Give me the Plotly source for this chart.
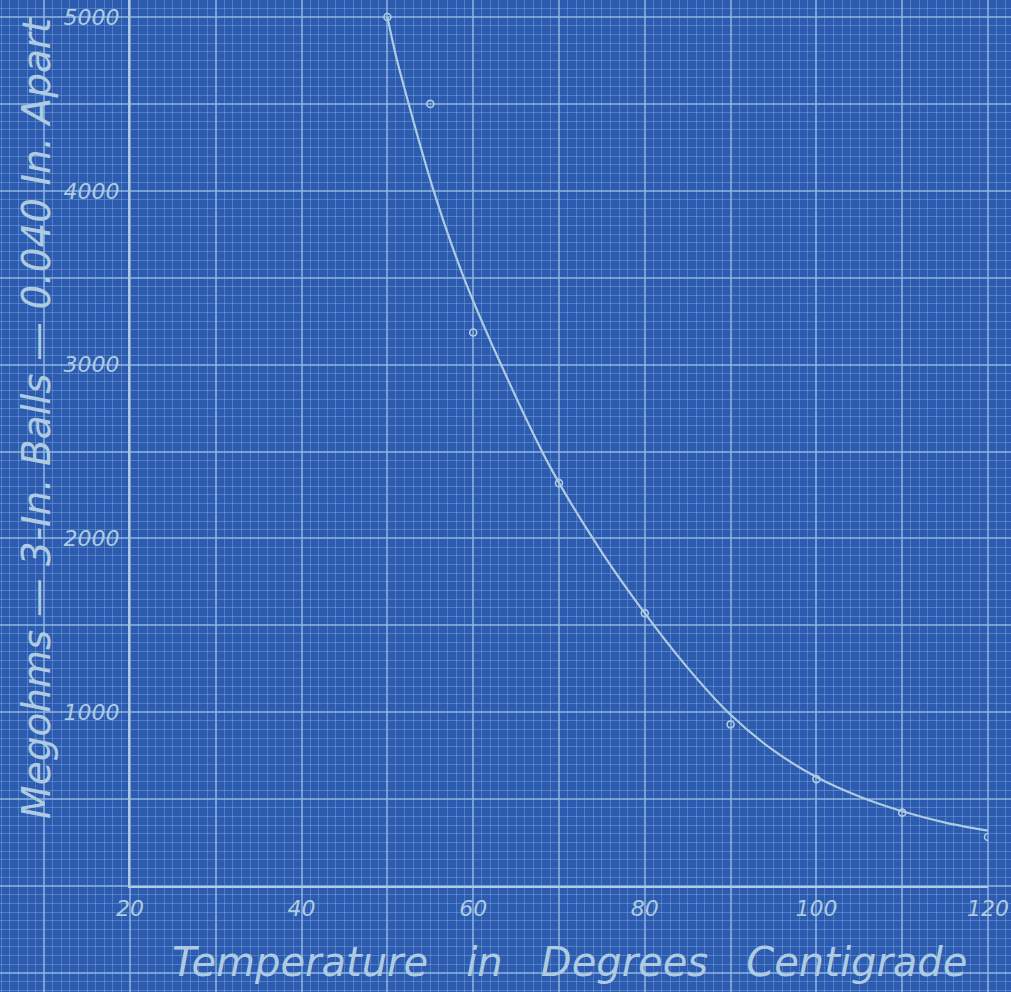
import plotly.graph_objects as go

# Measured data points (open circles)
temp_pts = [50, 55, 60, 70, 80, 90, 100, 110, 120]
megohm_pts = [5000, 4500, 3185, 2318, 1570, 930, 615, 422, 282]

# Hand-drawn smooth curve
temp_curve = [50, 51.1, 55.35, 58.85, 62.9, 68.95, 75, 80, 85, 90, 95, 100, 105, 110, 115, 120]
megohm_curve = [5000, 4755, 4007, 3508, 3038, 2413, 1920, 1570, 1255, 985, 780, 627, 515, 430, 365, 318]

x_ticks = [20, 40, 60, 80, 100, 120]
y_ticks = [1000, 2000, 3000, 4000, 5000]
y_tick_text = ["1000", "2000", "3000", "4000", "5000"]

BG = "#2c5bb0"
FINE = "rgba(125,170,222,0.45)"
MAJOR = "rgba(150,190,230,0.7)"
INK = "#aecbe2"
FONT = dict(family="DejaVu Sans", color=INK, style="italic")

W, H = 1011, 992
x_left_px, x_right_px = 130, 988
y_zero_px = 886
px_per_deg = (x_right_px - x_left_px) / 100.0
px_per_unit = (y_zero_px - 17) / 5000.0

fig = go.Figure()

# grid subplot (covers whole sheet)
fig.add_trace(go.Scatter(x=[], y=[], xaxis="x", yaxis="y", showlegend=False))

# curve + points on data subplot
fig.add_trace(go.Scatter(
    x=temp_curve, y=megohm_curve, mode="lines", xaxis="x2", yaxis="y2",
    line=dict(color=INK, width=2.2, shape="spline", smoothing=0.8),
    showlegend=False, hoverinfo="skip"))
fig.add_trace(go.Scatter(
    x=temp_pts, y=megohm_pts, mode="markers", xaxis="x2", yaxis="y2",
    marker=dict(symbol="circle-open", size=7, color=INK, line=dict(width=1.6, color=INK)),
    showlegend=False))

gx0 = 20 - x_left_px / px_per_deg
gx1 = 20 + (W - x_left_px) / px_per_deg
gy0 = -(H - y_zero_px) / px_per_unit
gy1 = y_zero_px / px_per_unit

fig.update_layout(
    width=W, height=H,
    margin=dict(l=0, r=0, t=0, b=0, pad=0),
    paper_bgcolor=BG, plot_bgcolor="rgba(0,0,0,0)",
    showlegend=False,
    xaxis=dict(domain=[0, 1], range=[gx0, gx1], anchor="y", automargin=False,
               tick0=0, dtick=10, showgrid=True, gridcolor=MAJOR, gridwidth=1.6,
               minor=dict(tick0=0, dtick=1, showgrid=True, gridcolor=FINE, gridwidth=1),
               showticklabels=False, zeroline=False, showline=False, ticks=""),
    yaxis=dict(domain=[0, 1], range=[gy0, gy1], anchor="x", automargin=False,
               tick0=0, dtick=500, showgrid=True, gridcolor=MAJOR, gridwidth=1.6,
               minor=dict(tick0=0, dtick=50, showgrid=True, gridcolor=FINE, gridwidth=1),
               showticklabels=False, zeroline=False, showline=False, ticks=""),
    xaxis2=dict(domain=[x_left_px / W, x_right_px / W], range=[20, 120], anchor="y2",
                automargin=False,
                showgrid=False, zeroline=False, showline=True, linecolor=INK, linewidth=2.2,
                tickvals=x_ticks, ticks="", ticklabelstandoff=1,
                tickfont=dict(size=22, **FONT)),
    yaxis2=dict(domain=[(H - y_zero_px) / H, 1], range=[0, gy1], anchor="x2",
                automargin=False,
                showgrid=False, zeroline=False, showline=True, linecolor=INK, linewidth=2.2,
                tickvals=y_ticks, ticktext=y_tick_text, ticks="", ticklabelstandoff=4,
                tickfont=dict(size=22, **FONT)),
    annotations=[
        dict(text="Temperature   in   Degrees   Centigrade", xref="paper", yref="paper",
             x=569 / W, y=(H - 962) / H, xanchor="center", yanchor="middle",
             showarrow=False, font=dict(size=40, **FONT)),
        dict(text="Megohms — 3-In. Balls — 0.040 In. Apart", xref="paper", yref="paper",
             x=36 / W, y=(H - 418) / H, xanchor="center", yanchor="middle",
             showarrow=False, textangle=-90, font=dict(size=39, **FONT)),
    ],
)

fig.write_html("out.html")
